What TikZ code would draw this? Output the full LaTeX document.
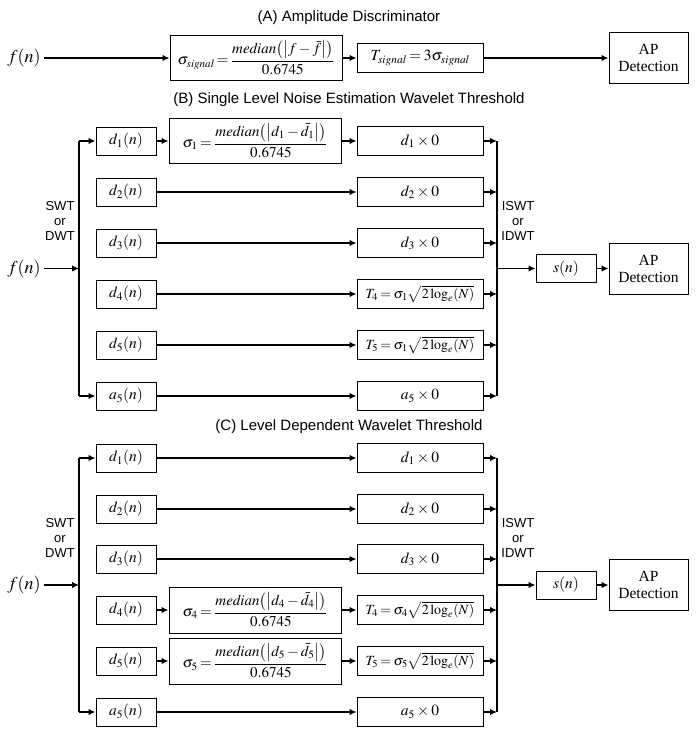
\documentclass[tikz,border=0pt]{standalone}
\usepackage{mathptmx}
\usepackage{fontspec}
\setmainfont{Liberation Serif}
\newfontfamily\arialf{Liberation Sans}
\usetikzlibrary{arrows.meta}
\tikzset{
  box/.style={draw, line width=1pt, inner sep=0pt, font=\fontsize{15.5}{19}\selectfont},
  sbox/.style={box, minimum width=60pt, minimum height=28pt},
  rbox/.style={box, minimum width=126pt, minimum height=29pt},
  tbox/.style={rbox, font=\fontsize{14}{17}\selectfont},
  fbox/.style={box, minimum width=172pt, minimum height=45pt, font=\fontsize{15}{18}\selectfont},
  apbox/.style={box, minimum width=79pt, minimum height=51pt, align=center, font=\fontsize{15.5}{17}\selectfont},
  ttl/.style={font=\arialf\fontsize{15}{17}\selectfont},
  lab/.style={font=\arialf\fontsize{13}{15}\selectfont, align=center, inner sep=0pt},
  inp/.style={font=\fontsize{18}{20}\selectfont},
  conn/.style={line width=1.3pt, -{Latex[length=7pt,width=6.5pt]}},
  busl/.style={line width=1.5pt},
  busr/.style={line width=2.2pt},
}
\newcommand{\medfracs}[3]{$\displaystyle #1=\frac{\mathit{median}\bigl(\bigl|#2_{#3}-\bar{#2}_{#3}\bigr|\bigr)}{0.6745}$}
\newcommand{\thr}[2]{$T_{#1}=\sigma_{#2}\sqrt{2\log_e\!\left(N\right)}$}
\begin{document}
\thickmuskip=3mu plus 1mu
\medmuskip=2.5mu plus 1mu
\begin{tikzpicture}[x=1pt,y=-1pt]
\useasboundingbox (0,0) rectangle (698,736);

% ---------------- (A) ----------------
\node[ttl] (ta) at (349,18) {(A) Amplitude Discriminator};
\node[inp] (af) at (24,58) {$f(n)$};
\node[fbox] (as) at (256,58) {$\displaystyle \sigma_{\mathit{signal}}=\frac{\mathit{median}\bigl(\bigl|f-\bar{f}\bigr|\bigr)}{0.6745}$};
\node[rbox] (at) at (420,58) {$T_{\mathit{signal}}=3\sigma_{\mathit{signal}}$};
\node[apbox] (aap) at (648.5,58) {AP\\Detection};
\draw[conn] (af) -- (as);
\draw[conn] (as) -- (at);
\draw[conn] (at) -- (aap);

% ---------------- (B) ----------------
\node[ttl] (tb) at (349,100) {(B) Single Level Noise Estimation Wavelet Threshold};
\node[sbox] (bl1) at (126,141) {$d_1(n)$};
\node[sbox] (bl2) at (126,192) {$d_2(n)$};
\node[sbox] (bl3) at (126,243) {$d_3(n)$};
\node[sbox] (bl4) at (126,294) {$d_4(n)$};
\node[sbox] (bl5) at (126,345) {$d_5(n)$};
\node[sbox] (bl6) at (126,396) {$a_5(n)$};
\node[fbox] (bs1) at (255,141) {\medfracs{\sigma_1}{d}{1}};
\node[rbox] (br1) at (420,141) {$d_1\times 0$};
\node[rbox] (br2) at (420,192) {$d_2\times 0$};
\node[rbox] (br3) at (420,243) {$d_3\times 0$};
\node[tbox] (br4) at (420,294) {\thr{4}{1}};
\node[tbox] (br5) at (420,345) {\thr{5}{1}};
\node[rbox] (br6) at (420,396) {$a_5\times 0$};
\node[sbox] (bsn) at (566,268.5) {$s(n)$};
\node[apbox] (bap) at (648.5,268.5) {AP\\Detection};
\node[inp] (bf) at (24,268.5) {$f(n)$};
\node[lab] (bsw) at (60,221) {SWT\\or\\DWT};
\node[lab] (bisw) at (518,221) {ISWT\\or\\IDWT};
\coordinate (bL1) at (79,141);
\coordinate (bL6) at (79,396);
\coordinate (bLm) at (79,268.5);
\coordinate (bR1) at (497,141);
\coordinate (bR6) at (497,396);
\coordinate (bRm) at (497,268.5);
\draw[busl] (bL1) -- (bL6);
\draw[busr] (bR1) -- (bR6);
\draw[conn] (bf) -- (bLm);
\draw[conn] (bL1) -- (bl1);
\draw[conn] (bL6) -- (bl6);
\draw[conn] (bl1) -- (bs1);
\draw[conn] (bs1) -- (br1);
\foreach \i in {2,...,6} \draw[conn] (bl\i) -- (br\i);
\foreach \i in {1,...,6} \draw[conn] (br\i.east) -- (br\i.east -| bR1);
\draw[conn] (bRm) -- (bsn);
\draw[conn] (bsn) -- (bap);

% ---------------- (C) ----------------
\node[ttl] (tc) at (349,427) {(C) Level Dependent Wavelet Threshold};
\node[sbox] (cl1) at (126,458) {$d_1(n)$};
\node[sbox] (cl2) at (126,509) {$d_2(n)$};
\node[sbox] (cl3) at (126,559) {$d_3(n)$};
\node[sbox] (cl4) at (126,610) {$d_4(n)$};
\node[sbox] (cl5) at (126,661) {$d_5(n)$};
\node[sbox] (cl6) at (126,712) {$a_5(n)$};
\node[fbox, minimum height=46pt] (cs4) at (255,610) {\medfracs{\sigma_4}{d}{4}};
\node[fbox, minimum height=46pt] (cs5) at (255,661) {\medfracs{\sigma_5}{d}{5}};
\node[rbox] (cr1) at (420,458) {$d_1\times 0$};
\node[rbox] (cr2) at (420,509) {$d_2\times 0$};
\node[rbox] (cr3) at (420,559) {$d_3\times 0$};
\node[tbox] (cr4) at (420,610) {\thr{4}{4}};
\node[tbox] (cr5) at (420,661) {\thr{5}{5}};
\node[rbox] (cr6) at (420,712) {$a_5\times 0$};
\node[sbox] (csn) at (566,585) {$s(n)$};
\node[apbox] (cap) at (648.5,585) {AP\\Detection};
\node[inp] (cf) at (24,585) {$f(n)$};
\node[lab] (csw) at (60,538) {SWT\\or\\DWT};
\node[lab] (cisw) at (518,538) {ISWT\\or\\IDWT};
\coordinate (cL1) at (79,458);
\coordinate (cL6) at (79,712);
\coordinate (cLm) at (79,585);
\coordinate (cR1) at (497,458);
\coordinate (cR6) at (497,712);
\coordinate (cRm) at (497,585);
\draw[busl] (cL1) -- (cL6);
\draw[busr] (cR1) -- (cR6);
\draw[conn] (cf) -- (cLm);
\draw[conn] (cL1) -- (cl1);
\draw[conn] (cL6) -- (cl6);
\foreach \i in {1,2,3,6} \draw[conn] (cl\i) -- (cr\i);
\draw[conn] (cl4) -- (cs4);
\draw[conn] (cs4) -- (cr4);
\draw[conn] (cl5) -- (cs5);
\draw[conn] (cs5) -- (cr5);
\foreach \i in {1,...,6} \draw[conn] (cr\i.east) -- (cr\i.east -| cR1);
\draw[conn] (cRm) -- (csn);
\draw[conn] (csn) -- (cap);
\end{tikzpicture}
\end{document}
